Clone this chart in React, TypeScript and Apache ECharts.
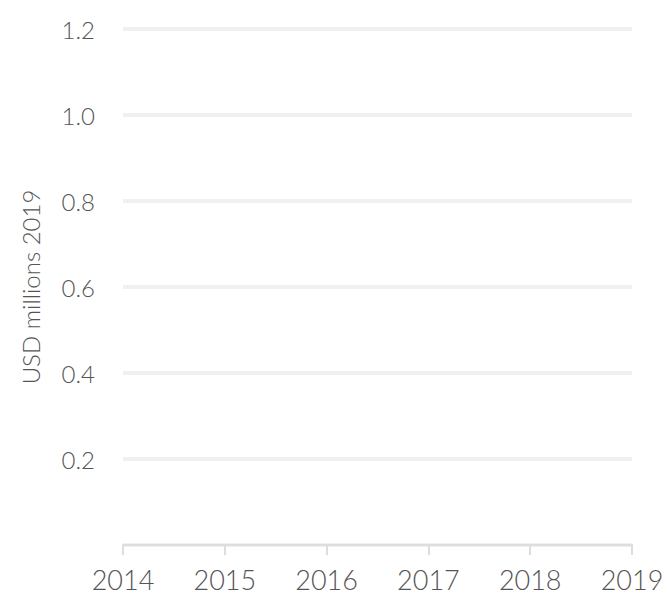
import React, { useEffect, useRef } from "react";
import * as echarts from "echarts";

const years: number[] = [2014, 2015, 2016, 2017, 2018, 2019];
const values: (number | null)[] = [];
const yTicks: number[] = [0, 0.2, 0.4, 0.6, 0.8, 1.0, 1.2];

export default function App() {
  const ref = useRef<HTMLDivElement>(null);
  useEffect(() => {
    if (!ref.current) return;
    const chart = echarts.init(ref.current, undefined, { renderer: "svg" });
    const font = "Lato";
    chart.setOption({
      animation: false,
      grid: { left: 123, right: 35, top: 29, bottom: 57, containLabel: false },
      xAxis: {
        type: "value",
        min: years[0],
        max: years[years.length - 1],
        interval: 1,
        axisLine: { show: true, lineStyle: { color: "#dddddd", width: 2 } },
        axisTick: { show: true, length: 10, lineStyle: { color: "#dddddd", width: 2 } },
        splitLine: { show: false },
        axisLabel: {
          color: "#555555",
          fontSize: 27,
          fontFamily: font,
          fontWeight: 300,
          margin: 21,
          formatter: (v: number) => String(v),
        },
      },
      yAxis: {
        type: "value",
        min: yTicks[0],
        max: yTicks[yTicks.length - 1],
        interval: 0.2,
        name: "USD millions 2019",
        nameLocation: "middle",
        nameGap: 81,
        nameTextStyle: { color: "#555555", fontSize: 24, fontFamily: font, fontWeight: 300 },
        axisLine: { show: false },
        axisTick: { show: false },
        splitLine: { show: true, lineStyle: { color: "#f0f0f0", width: 4 } },
        axisLabel: {
          color: "#555555",
          fontSize: 24,
          fontFamily: font,
          fontWeight: 300,
          margin: 28,
          formatter: (v: number) => (Math.abs(v) < 1e-9 ? "" : v.toFixed(1)),
        },
      },
      series: [
        {
          type: "line",
          data: values.map((v, i) => [years[i], v]),
          showSymbol: false,
        },
      ],
    });
    return () => chart.dispose();
  }, []);
  return (
    <div
      ref={ref}
      style={{ position: "absolute", left: 0, top: 0, width: 667, height: 602, background: "#fff" }}
    />
  );
}
